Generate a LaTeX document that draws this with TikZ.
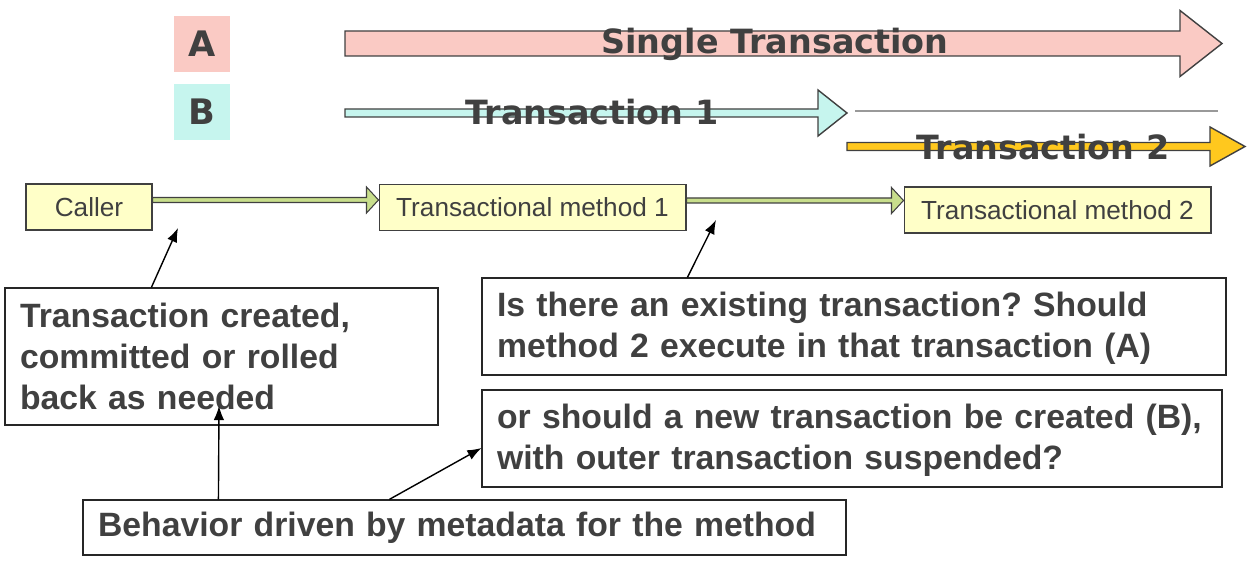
\documentclass[tikz,border=0pt]{standalone}
\usepackage{fontspec}
\setmainfont{Liberation Sans}
\newfontfamily\bannerfont{DejaVu Sans}
\usetikzlibrary{arrows.meta, calc, positioning}
\frenchspacing
\definecolor{inkgray}{RGB}{64,64,64}
\definecolor{singlepink}{RGB}{250,202,196}
\definecolor{newcyan}{RGB}{198,245,238}
\definecolor{innergold}{RGB}{255,200,30}
\definecolor{callyellow}{RGB}{255,255,200}
\definecolor{callgreen}{RGB}{200,222,140}
\tikzset{
	px/.style={x={(0.02cm,0)},y={(0,-0.02cm)}},
	tag/.style={minimum size=1.12cm, inner sep=0pt, text=inkgray,
		font=\bannerfont\bfseries\fontsize{20}{24}\selectfont},
	banner/.style={text=inkgray, inner sep=0pt,
		font=\bannerfont\bfseries\fontsize{19}{23}\selectfont},
	bigflow/.style={draw=inkgray, line width=0.8pt},
	callflow/.style={draw=inkgray, fill=callgreen, line width=0.6pt},
	method/.style={
		rectangle,
		draw=inkgray, line width=0.6pt,
		fill=callyellow,
		text=inkgray,
		minimum height=0.92cm,
		inner sep=0pt,
		font=\fontsize{14.9}{17}\selectfont
	},
	note/.style={
		rectangle,
		draw=black!85, line width=0.7pt,
		text=inkgray,
		align=left,
		inner xsep=0.3cm, inner ysep=0pt,
		font=\bfseries\fontsize{19.2}{23.2}\selectfont
	},
	pointer/.style={-{Latex[length=8pt,width=6pt]}, black, line width=0.8pt}
}
% tail x, head base x, tip x, centre y, shaft half, head half, colour
\newcommand{\bigarrow}[7]{%
	\filldraw[bigflow,fill=#7] (#1,#4-#5) -- (#2,#4-#5) -- (#2,#4-#6) -- (#3,#4)
		-- (#2,#4+#6) -- (#2,#4+#5) -- (#1,#4+#5) -- cycle;}
% call arrow between two method boxes
\newcommand{\callarrow}[2]{%
	\coordinate (cs) at ($(#1.east)+(0,-7)$);
	\coordinate (ct) at (cs -| #2.west);
	\filldraw[callflow] ($(cs)+(0,-2.5)$) -- ($(ct)+(-12,-2.5)$) -- ($(ct)+(-12,-13)$) -- (ct)
		-- ($(ct)+(-12,13)$) -- ($(ct)+(-12,2.5)$) -- ($(cs)+(0,2.5)$) -- cycle;}

\begin{document}
\begin{tikzpicture}[px]
	\useasboundingbox (0,0) rectangle (1252,564);
	% legend
	\node[tag, fill=singlepink]	(tagA)	at (202,44)		{A};
	\node[tag, fill=newcyan]	(tagB)	at (202,112)	{B};
	% transaction spans
	\bigarrow{345}{1180}{1222}{43.5}{12.5}{33}{singlepink}
	\bigarrow{345}{818}{847}{113}{4}{23}{newcyan}
	\draw[black!40, line width=0.6pt] (855,111) -- (1218,111);
	\bigarrow{847}{1210}{1245}{146.5}{4}{19.5}{innergold}
	\node[banner]	(single)	at (775,44)		{Single Transaction};
	\node[banner]	(tx1)		at (592,112)	{Transaction 1};
	\node[banner]	(tx2)		at (1043,147)	{Transaction 2};
	% call chain
	\node[method, minimum width=2.52cm]	(caller)	at (89,207)		{Caller};
	\node[method, minimum width=6.14cm]	(meth1)		at (532.5,207.5)	{Transactional method 1};
	\node[method, minimum width=6.14cm]	(meth2)		at (1057.5,210)	{Transactional method 2};
	\callarrow{caller}{meth1}
	\callarrow{meth1}{meth2}
	% explanations
	\node[note, text width=8.06cm, minimum height=2.74cm]	(created)	at (221.5,356.5)
		{Transaction created,\\committed or rolled\\back as needed};
	\node[note, text width=14.28cm, minimum height=1.94cm]	(existing)	at (854,326.5)
		{\rule{0pt}{0.55cm}Is there an existing transaction? Should\\method 2 execute in that transaction (A)};
	\node[note, text width=14.2cm, minimum height=1.94cm]	(fresh)		at (852,438.5)
		{\rule{0pt}{0.55cm}or should a new transaction be created (B),\\with outer transaction suspended?};
	\node[note, text width=14.66cm, minimum height=1.1cm]	(metadata)	at (464.5,527.5)
		{Behavior driven by metadata for the method};
	\coordinate	(callgap)	at (178,228);
	\coordinate	(methgap)	at (716,220);
	\coordinate	(neededpt)	at (219,406);
	\draw[pointer]	([xshift=2.94cm]created.north west)	-- (callgap);
	\draw[pointer]	([xshift=4.12cm]existing.north west)	-- (methgap);
	\draw[pointer]	([xshift=2.72cm]metadata.north west)	-- (neededpt);
	\draw[pointer]	([xshift=6.14cm]metadata.north west)	-- ([yshift=-0.19cm]fresh.west);
\end{tikzpicture}
\end{document}
